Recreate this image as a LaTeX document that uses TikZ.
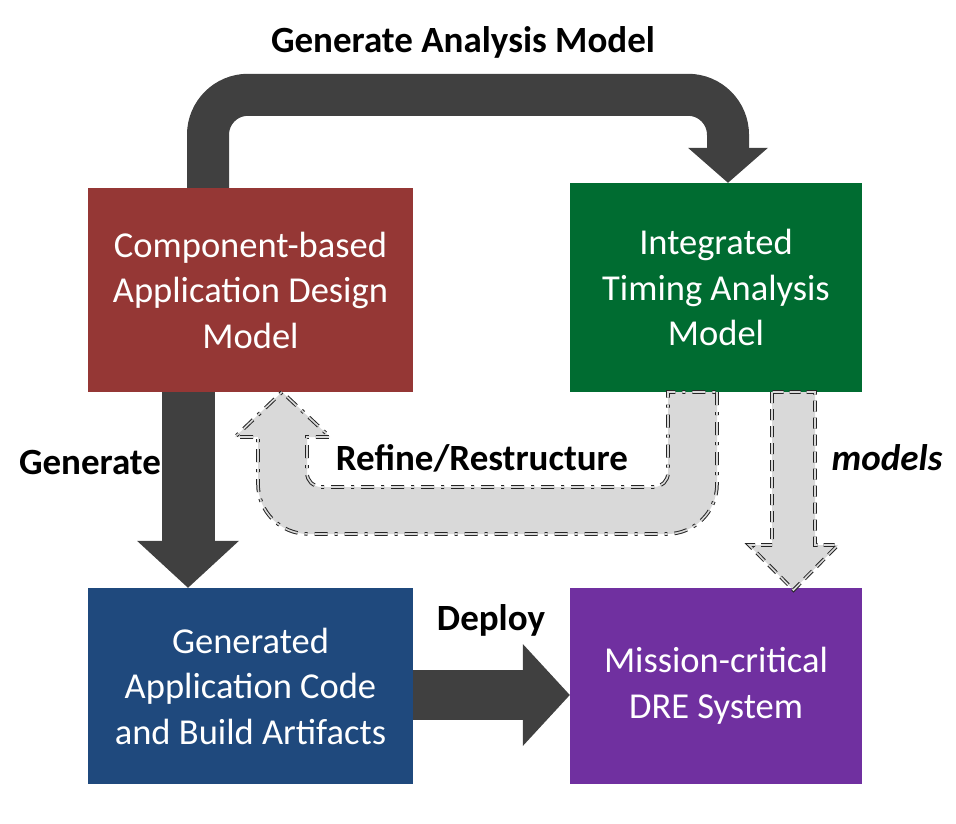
\documentclass[tikz,border=0pt]{standalone}
\usepackage{fontspec}
\setmainfont{Carlito}
\usetikzlibrary{arrows.meta}
\definecolor{designred}{HTML}{953735}
\definecolor{timinggreen}{HTML}{006C31}
\definecolor{codeblue}{HTML}{1F497D}
\definecolor{drepurple}{HTML}{7030A0}
\definecolor{arrowgray}{HTML}{404040}
\definecolor{softgray}{HTML}{D9D9D9}
\tikzstyle{modelbox}=[rectangle, inner sep=0pt, text=white, align=center, font=\fontsize{36.5}{45.5}\selectfont]
\tikzstyle{steplabel}=[font=\fontsize{37}{42}\selectfont\bfseries]
\tikzstyle{fatarrow}=[arrowgray, line width=#1]
\tikzstyle{hollowarrow}=[fill=softgray, draw=black!85, double=softgray, double distance=1.6pt, line width=1pt]
\newcommand{\mnode}[1]{\node[modelbox, fill=#1]}

\begin{document}
\begin{tikzpicture}[x=1pt, y=-1pt]
          \useasboundingbox (0,0) rectangle (956,824);
          \mnode{designred} (design) [minimum width=325pt, minimum height=204pt] at (250.5,290) {Component-based\\Application Design\\Model}; %
          \mnode{timinggreen} (timing) [minimum width=292pt, minimum height=209pt] at (716,287.5) {Integrated\\Timing Analysis\\Model}; %
          \mnode{codeblue} (code) [minimum width=325pt, minimum height=196pt] at (250.5,686) {Generated\\Application Code\\and Build Artifacts};
          \mnode{drepurple} (dre) [minimum width=292pt, minimum height=196pt] at (716,686) {Mission-critical\\DRE System};
          % light gray arrows
          \filldraw[hollowarrow, dash pattern=on 13pt off 7pt on 3pt off 7pt] (717,392) [rounded corners=50pt] -- (717,534) -- (258,534) [sharp corners] -- (258,437) -- (235,437) -- (282,392) -- (330,437) -- (307,437) [rounded corners=14pt] -- (307,487) -- (668,487) [sharp corners] -- (668,392) -- cycle;
          \filldraw[hollowarrow, dash pattern=on 11pt off 6pt] (772,392) -- (772,545) -- (749,545) -- (793.5,590) -- (838,545) -- (815,545) -- (815,392) -- cycle;
          % dark arrows
          \draw[fatarrow=42pt, rounded corners=40pt, -{Triangle[length=35pt, width=80pt, line width=0pt]}] ([xshift=-42.5pt]design.north) -- ++(0,-93) -| ([xshift=12pt]timing.north);
          \draw[fatarrow=53pt, -{Triangle[length=47pt, width=102pt, line width=0pt]}] ([xshift=-62.5pt]design.south) -- ([xshift=-62.5pt]code.north);
          \draw[fatarrow=50pt, -{Triangle[length=47pt, width=102pt, line width=0pt]}] ([yshift=-9pt]code.east) -- ([yshift=-9pt]dre.west);
          % labels
          \node[steplabel] (genmodel) at (463,42) {Generate Analysis Model};
          \node[steplabel] (gen) at (90,463) {Generate};
          \node[steplabel] (refine) at (482,458) {Refine/Restructure};
          \node[steplabel, font=\fontsize{37}{42}\selectfont\bfseries\itshape] (models) at (887,458) {models};
          \node[steplabel] (deploy) at (491,620) {Deploy};
        \end{tikzpicture}
\end{document}
